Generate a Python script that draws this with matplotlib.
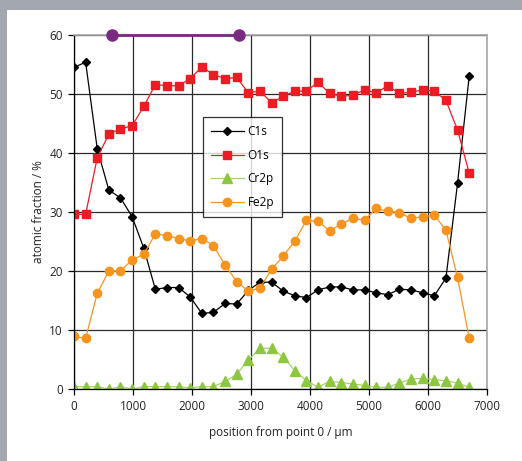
import numpy as np
import matplotlib
matplotlib.use("Agg")
import matplotlib.pyplot as plt
from matplotlib.patches import Rectangle

plt.rcParams['font.family'] = ['Open Sans', 'DejaVu Sans']

# line scan positions (µm)
pos = [0, 197, 394, 591, 788, 985, 1182, 1379, 1576, 1773, 1970, 2167, 2364,
       2561, 2758, 2955, 3152, 3349, 3546, 3743, 3940, 4137, 4334, 4531, 4728,
       4925, 5122, 5319, 5516, 5713, 5910, 6107, 6304, 6501, 6698]

c1s = [54.5, 55.4, 40.7, 33.7, 32.4, 29.2, 23.9, 16.9, 17.2, 17.2, 15.6, 12.8,
       13.0, 14.5, 14.4, 16.7, 18.1, 18.1, 16.6, 15.8, 15.5, 16.8, 17.3, 17.3,
       16.8, 16.8, 16.3, 16.0, 16.9, 16.8, 16.3, 15.8, 18.8, 34.9, 53.0]
o1s = [29.6, 29.6, 39.2, 43.2, 44.1, 44.6, 47.9, 51.6, 51.4, 51.4, 52.6, 54.6,
       53.3, 52.6, 52.8, 50.2, 50.5, 48.5, 49.6, 50.5, 50.5, 52.0, 50.1, 49.6,
       49.8, 50.7, 50.2, 51.4, 50.1, 50.3, 50.7, 50.5, 48.9, 43.9, 36.6]
cr2p = [0.4, 0.4, 0.4, 0.0, 0.4, 0.0, 0.4, 0.4, 0.4, 0.4, 0.2, 0.4, 0.4, 1.3,
        2.5, 4.9, 6.9, 6.9, 5.4, 3.1, 1.4, 0.3, 1.3, 1.1, 0.85, 0.6, 0.3, 0.3,
        1.0, 1.7, 1.8, 1.6, 1.4, 1.0, 0.3]
fe2p = [8.9, 8.6, 16.2, 20.0, 20.0, 21.9, 22.8, 26.3, 26.0, 25.5, 25.1, 25.5,
        24.3, 21.0, 18.2, 16.6, 17.1, 20.3, 22.5, 25.1, 28.6, 28.4, 26.8, 28.0,
        28.9, 28.6, 30.6, 30.1, 29.9, 28.9, 29.2, 29.5, 26.9, 18.9, 8.6]

# marked region along the top
region_x = [650, 2800]
region_y = [60, 60]

fig = plt.figure(figsize=(5.22, 4.61), dpi=100)
fig.patch.set_facecolor('#a3a8af')
fig.add_artist(Rectangle((7 / 522, 0), 1, 451 / 461, transform=fig.transFigure,
                         facecolor='white', edgecolor='none', zorder=-10))

ax = fig.add_axes([74 / 522, 1 - 389 / 461, 413 / 522, 354 / 461])
ax.set_facecolor('white')

ax.plot(pos, c1s, color='black', lw=0.9, marker='D', ms=4.3, label='C1s')
ax.plot(pos, o1s, color='#ed1c24', lw=0.9, marker='s', ms=5.2, label='O1s')
ax.plot(pos, cr2p, color='#a9d36b', lw=0.9, marker='^', ms=6.5,
        mfc='#8dc63f', mec='#8dc63f', label='Cr2p')
ax.plot(pos, fe2p, color='#f7941d', lw=0.9, marker='o', ms=6, label='Fe2p')

ax.plot(region_x, region_y, color='#7b2a82', lw=2, marker='o', ms=8,
        clip_on=False, zorder=5)

ax.set_xlim(0, 7000)
ax.set_ylim(0, 60)
ax.set_xticks(range(0, 7001, 1000))
ax.set_yticks(range(0, 61, 10))
ax.grid(True, color='#2a2a2a', lw=0.9)
ax.set_axisbelow(True)

for s in ['top', 'right']:
    ax.spines[s].set_color('#a6a6a6')
    ax.spines[s].set_linewidth(1.2)
for s in ['left', 'bottom']:
    ax.spines[s].set_color('black')
    ax.spines[s].set_linewidth(0.9)

ax.tick_params(direction='out', length=4, width=0.9, labelsize=8.5,
               colors='black', labelcolor='#222222', pad=4)

ax.set_xlabel('position from point 0 / µm', fontsize=8.5, color='#222222', labelpad=9)
ax.set_ylabel('atomic fraction / %', fontsize=8.5, color='#222222', labelpad=3)

leg = ax.legend(loc='upper left', bbox_to_anchor=(0.3116, 0.769), borderaxespad=0,
                fontsize=8.5, frameon=True, fancybox=False, edgecolor='black',
                handlelength=2.8, handletextpad=0.3, labelspacing=0.9,
                borderpad=0.7)
leg.get_frame().set_linewidth(0.9)

fig.savefig('out.png', dpi=100, facecolor=fig.get_facecolor())
